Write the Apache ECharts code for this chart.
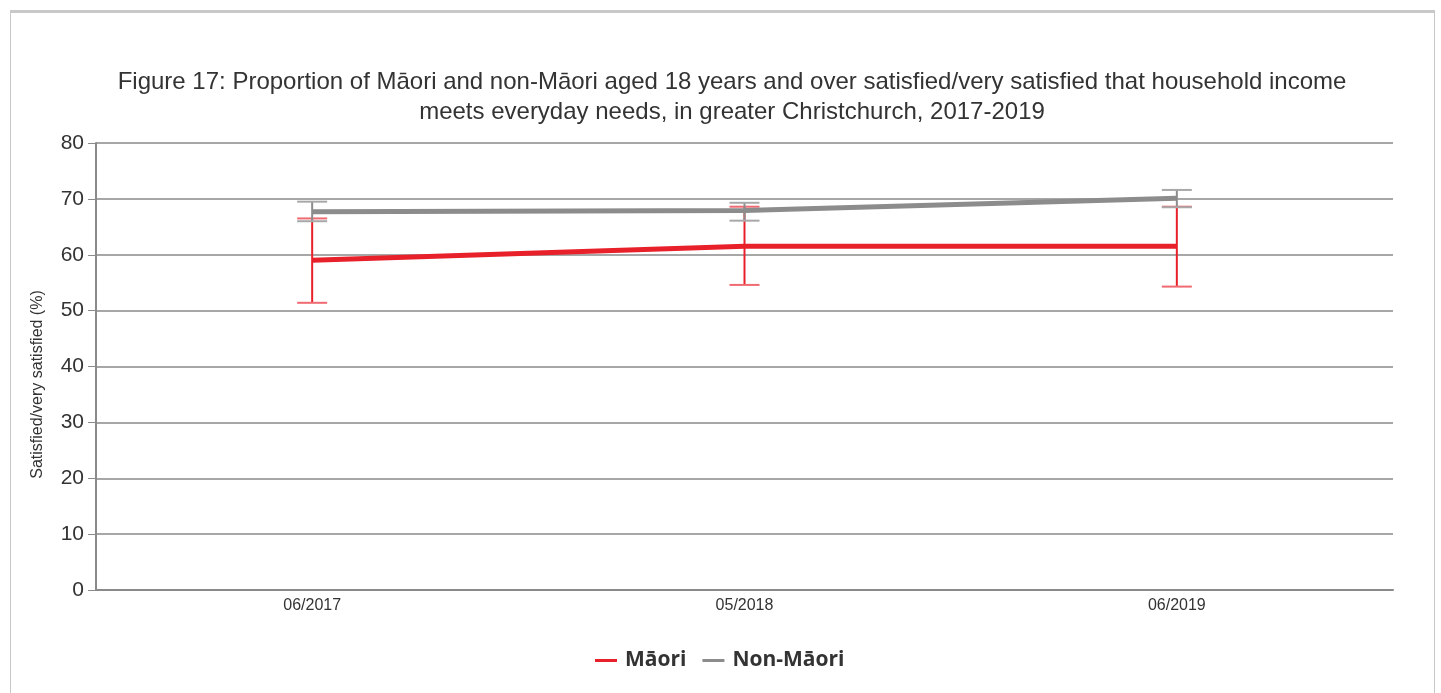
<!DOCTYPE html>
<html>
<head>
<meta charset="utf-8">
<style>
  html, body { margin: 0; padding: 0; background: #fff; }
  #frame {
    position: absolute; left: 10px; top: 10px; width: 1425px; height: 700px;
    border: 1px solid #c8c8c8; border-top: 3px solid #c8c8c8; box-sizing: border-box;
  }
  #chart { position: absolute; left: 0; top: 0; width: 1441px; height: 693px; }
</style>
<script src="https://cdn.jsdelivr.net/npm/echarts@6/dist/echarts.min.js"></script>
</head>
<body>
<div id="frame"></div>
<div id="chart"></div>
<script>
var categories = ['06/2017', '05/2018', '06/2019']
var maoriValues = [59.0, 61.5, 61.5]
var maoriLow = [51.4, 54.6, 54.3]
var maoriHigh = [66.5, 68.6, 68.6]
var nonMaoriValues = [67.7, 67.9, 70.1]
var nonMaoriLow = [66.0, 66.1, 68.5]
var nonMaoriHigh = [69.5, 69.3, 71.6]

var red = '#e8202a'
var grey = '#8c8c8c'
var font = 'Liberation Sans'

function errorSeries(name, low, high, color, capColor) {
  return {
    name: name,
    type: 'custom',
    z: 3,
    data: low.map(function (v, i) { return [i, v, high[i]] }),
    renderItem: function (params, api) {
      var lo = api.coord([api.value(0), api.value(1)])
      var hi = api.coord([api.value(0), api.value(2)])
      var half = 15
      return {
        type: 'group',
        children: [
          { type: 'line', shape: { x1: hi[0], y1: hi[1], x2: lo[0], y2: lo[1] }, style: { stroke: color, lineWidth: 2 } },
          { type: 'line', shape: { x1: hi[0] - half, y1: hi[1], x2: hi[0] + half, y2: hi[1] }, style: { stroke: capColor, lineWidth: 2 } },
          { type: 'line', shape: { x1: lo[0] - half, y1: lo[1], x2: lo[0] + half, y2: lo[1] }, style: { stroke: capColor, lineWidth: 2 } }
        ]
      }
    }
  }
}

var chart = echarts.init(document.getElementById('chart'))
chart.setOption({
  animation: false,
  title: {
    text: 'Figure 17: Proportion of Māori and non-Māori aged 18 years and over satisfied/very satisfied that household income\nmeets everyday needs, in greater Christchurch, 2017-2019',
    left: 727,
    top: 62,
    textAlign: 'center',
    textStyle: { fontFamily: font, fontSize: 24, fontWeight: 'normal', color: '#333', lineHeight: 30 }
  },
  legend: {
    data: ['Māori', 'Non-Māori'],
    left: 590,
    top: 645,
    itemWidth: 22,
    itemGap: 16,
    icon: 'rect',
    itemHeight: 3,
    textStyle: { fontSize: 21, fontWeight: 'bold', color: '#333', fontFamily: 'Open Sans', padding: [0, 0, 0, 3] }
  },
  grid: { left: 96, right: 48, top: 143, bottom: 103 },
  xAxis: {
    type: 'category',
    data: categories,
    boundaryGap: true,
    axisLine: { lineStyle: { color: '#8a8a8a', width: 2 } },
    axisTick: { alignWithLabel: true, length: 6, lineStyle: { color: '#8a8a8a' } },
    axisLabel: { fontFamily: font, fontSize: 16, color: '#333', margin: 8 }
  },
  yAxis: {
    type: 'value',
    min: 0,
    max: 80,
    interval: 10,
    name: 'Satisfied/very satisfied (%)',
    nameLocation: 'middle',
    nameGap: 50,
    nameTextStyle: { fontFamily: font, fontSize: 16, color: '#333', padding: [0, 0, 0, -36] },
    axisLine: { show: true, lineStyle: { color: '#8a8a8a', width: 2 } },
    axisTick: { show: true, length: 8, lineStyle: { color: '#8a8a8a' } },
    axisLabel: { fontFamily: font, fontSize: 21, color: '#333', margin: 12 },
    splitLine: { lineStyle: { color: '#8a8a8a', width: 1.5 } }
  },
  series: [
    {
      name: 'Māori',
      type: 'line',
      data: maoriValues,
      symbol: 'none',
      z: 4,
      itemStyle: { color: red },
      lineStyle: { color: red, width: 5 }
    },
    {
      name: 'Non-Māori',
      type: 'line',
      data: nonMaoriValues,
      symbol: 'none',
      z: 4,
      itemStyle: { color: grey },
      lineStyle: { color: grey, width: 5 }
    },
    errorSeries('Māori', maoriLow, maoriHigh, red, '#f06a72'),
    errorSeries('Non-Māori', nonMaoriLow, nonMaoriHigh, grey, '#a8a8a8')
  ]
})
</script>
</body>
</html>
